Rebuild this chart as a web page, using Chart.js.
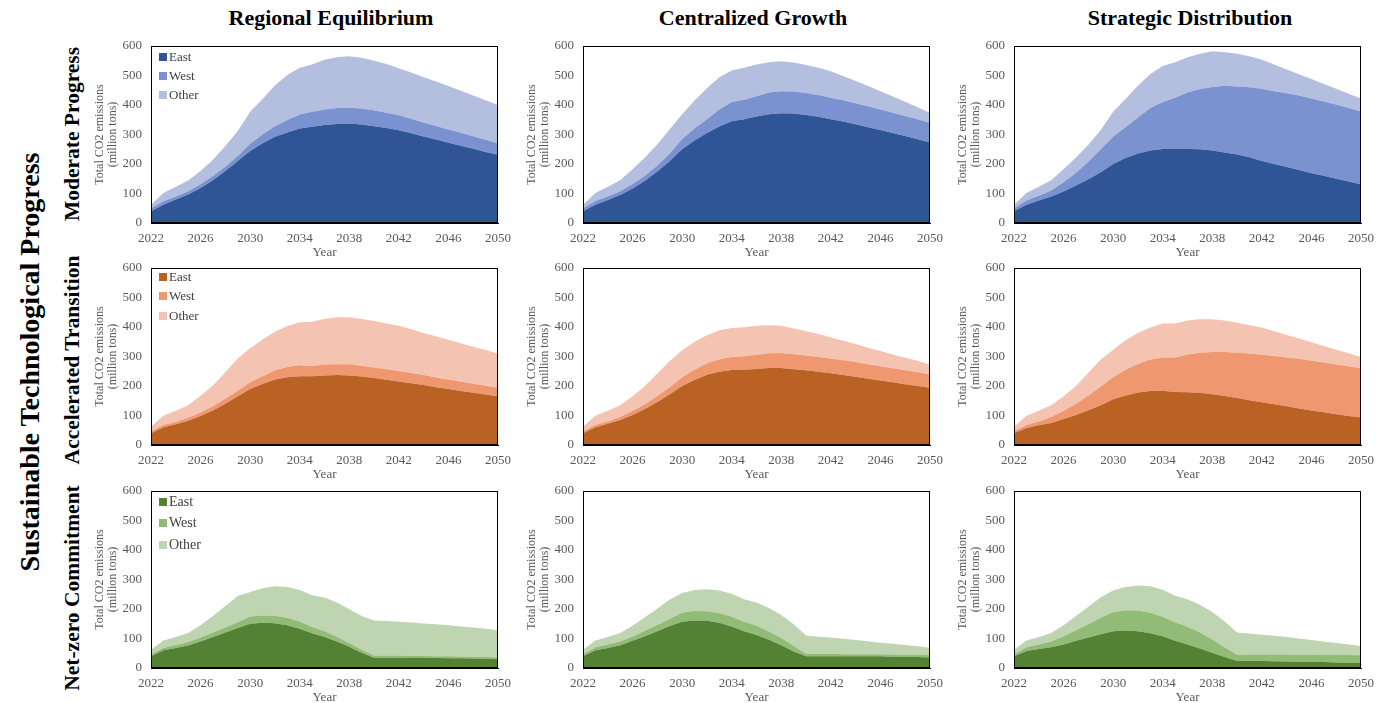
<!DOCTYPE html>
<html>
<head>
<meta charset="utf-8">
<title>Total CO2 emissions by region and scenario</title>
<script src="https://cdn.jsdelivr.net/npm/chart.js@4.4.0/dist/chart.umd.min.js"></script>
<style>
  body { margin: 0; background: #fff; width: 1386px; height: 703px; overflow: hidden; position: relative; font-family: "Liberation Serif", "Times New Roman", serif; }
  .panel { position: absolute; }
  .coltitle { position: absolute; top: 5px; font-weight: bold; font-size: 22px; white-space: nowrap; transform: translateX(-50%); color: #000; }
  .rowtitle { position: absolute; font-weight: bold; white-space: nowrap; transform: translate(-50%, -50%) rotate(-90deg); color: #000; }
</style>
</head>
<body>

<div class="coltitle" style="left:331px">Regional Equilibrium</div>
<div class="coltitle" style="left:753px">Centralized Growth</div>
<div class="coltitle" style="left:1190px">Strategic Distribution</div>

<div class="rowtitle" style="left:30px; top:362px; font-size:28px">Sustainable Technological Progress</div>
<div class="rowtitle" style="left:72px; top:134px; font-size:21.5px">Moderate Progress</div>
<div class="rowtitle" style="left:72px; top:360px; font-size:21.5px">Accelerated Transition</div>
<div class="rowtitle" style="left:72px; top:588px; font-size:21.5px">Net-zero Commitment</div>

<canvas class="panel" id="p11"></canvas>
<canvas class="panel" id="p12"></canvas>
<canvas class="panel" id="p13"></canvas>
<canvas class="panel" id="p21"></canvas>
<canvas class="panel" id="p22"></canvas>
<canvas class="panel" id="p23"></canvas>
<canvas class="panel" id="p31"></canvas>
<canvas class="panel" id="p32"></canvas>
<canvas class="panel" id="p33"></canvas>

<script>
// ---- data (million tons CO2 per year) ----
const years = [2022,2023,2024,2025,2026,2027,2028,2029,2030,2031,2032,2033,2034,2035,2036,2037,2038,2039,2040,2041,2042,2043,2044,2045,2046,2047,2048,2049,2050];
const regionNames = ['East', 'West', 'Other'];
const yTicks = [0, 100, 200, 300, 400, 500, 600];

// Moderate Progress
const moderateRegionalEast  = [40,62,80,97,119,145,176,210,244,270,292,307,320,326,332,336,337,334,328,322,314,304,293,283,272,262,252,241,231];
const moderateRegionalWest  = [10,12,10,11,12,14,15,17,25,30,36,42,48,51,53,54,54,54,54,52,51,49,48,46,45,44,42,41,39];
const moderateRegionalOther = [12,28,33,36,45,55,70,85,108,120,138,153,158,160,168,172,174,172,168,165,160,157,153,151,147,142,138,134,130];

const moderateCentralEast  = [40,62,78,95,117,143,175,210,250,280,305,327,345,352,361,369,372,371,366,360,352,344,335,325,315,305,295,284,273];
const moderateCentralWest  = [10,13,12,13,15,17,20,26,35,40,47,58,65,66,69,73,75,75,75,74,73,72,71,71,70,69,68,68,67];
const moderateCentralOther = [12,27,33,37,50,62,72,82,84,95,105,109,107,108,107,103,101,98,95,92,89,82,75,68,62,55,48,40,33];

const moderateStrategicEast  = [40,62,76,90,107,127,148,172,200,220,236,246,251,251,251,250,246,239,232,223,210,200,190,180,169,160,150,141,131];
const moderateStrategicWest  = [10,14,16,20,31,43,60,78,92,105,122,144,159,174,191,204,215,226,231,237,245,247,250,252,253,252,252,249,247];
const moderateStrategicOther = [12,26,31,35,44,52,57,65,85,95,107,115,122,120,120,120,121,114,111,105,98,90,80,72,66,59,53,48,44];

// Accelerated Transition
const acceleratedRegionalEast  = [40,60,70,82,98,117,140,165,190,207,222,230,233,233,236,237,236,232,227,221,215,209,203,196,190,183,177,171,165];
const acceleratedRegionalWest  = [7,8,8,10,12,14,17,19,23,26,31,34,37,35,37,37,38,37,36,36,36,35,34,33,32,32,31,30,29];
const acceleratedRegionalOther = [15,31,38,43,57,71,90,109,115,125,131,139,146,150,155,159,159,158,157,155,153,148,143,140,135,130,125,121,116];

const acceleratedCentralEast  = [40,60,72,85,102,122,146,172,200,220,238,248,254,255,258,261,261,257,253,248,243,237,231,225,219,213,206,200,194];
const acceleratedCentralWest  = [7,8,8,10,13,16,20,24,30,35,39,43,44,46,48,50,51,51,50,50,50,50,50,49,48,47,47,47,46];
const acceleratedCentralOther = [15,31,36,40,50,62,76,89,91,95,95,98,99,98,98,95,92,87,83,78,71,66,61,56,52,47,43,39,32];

const acceleratedStrategicEast  = [40,58,67,75,88,102,118,135,155,168,178,183,184,180,179,177,172,166,159,152,145,138,131,124,117,111,104,98,93];
const acceleratedStrategicWest  = [7,10,13,20,27,38,50,63,75,87,97,107,113,117,128,136,143,149,154,158,161,164,166,168,169,169,169,169,167];
const acceleratedStrategicOther = [15,31,36,40,50,60,77,92,93,100,105,108,115,115,115,113,111,107,101,96,92,84,76,69,62,56,50,44,38];

// Net-zero Commitment
const netzeroRegionalEast  = [40,60,68,76,90,105,120,136,150,153,152,145,133,118,105,90,72,52,35,35,35,34,34,34,33,33,32,31,30];
const netzeroRegionalWest  = [7,8,10,12,13,15,17,19,25,25,25,25,25,21,20,16,13,10,7,7,7,7,7,6,7,6,6,6,6];
const netzeroRegionalOther = [15,25,27,31,42,56,73,89,83,92,100,105,106,108,114,116,114,114,119,117,115,113,110,108,105,102,99,96,92];

const netzeroCentralEast  = [40,60,68,77,92,108,125,142,157,161,160,153,141,125,112,96,77,56,40,40,40,40,40,40,40,38,37,37,36];
const netzeroCentralWest  = [7,10,12,13,15,18,21,24,31,32,32,33,33,32,31,28,25,19,8,8,8,7,7,7,7,8,8,8,8];
const netzeroCentralOther = [15,23,25,29,36,46,56,66,66,71,75,77,78,76,79,79,78,73,62,58,55,52,48,44,39,36,33,29,25];

const netzeroStrategicEast  = [40,58,64,70,80,92,103,114,125,127,125,118,108,92,80,66,52,37,24,24,24,23,22,21,20,20,19,18,17];
const netzeroStrategicWest  = [7,12,16,20,28,36,45,56,65,69,70,69,66,63,60,54,45,33,21,22,22,23,24,24,25,24,25,26,26];
const netzeroStrategicOther = [15,23,25,29,37,48,60,70,73,79,85,90,91,90,93,94,93,88,75,71,67,63,59,55,50,46,41,36,32];

// ---- styling ----
const palettes = {
  blue:   ['#2F5597', '#7A92CF', '#B4BFDF'],
  orange: ['#BA6124', '#EF9870', '#F4C3B1'],
  green:  ['#548235', '#91BB77', '#BFD5B1']
};
const SERIF = '"Liberation Serif", "Times New Roman", serif';
const GREY = '#595959';

// black frame around the plotting area
const frame = {
  id: 'frame',
  afterDatasetsDraw(chart) {
    const { ctx, chartArea: a } = chart;
    ctx.save();
    ctx.strokeStyle = '#000';
    ctx.lineWidth = 1;
    ctx.strokeRect(Math.round(a.left) + 0.5, Math.round(a.top) + 0.5,
                   Math.round(a.right - a.left) - 1, Math.round(a.bottom - a.top) - 1);
    ctx.restore();
  }
};

// legend drawn inside the top-left of the plotting area
const insideLegend = {
  id: 'insideLegend',
  afterDraw(chart, args, opts) {
    if (!opts.show) return;
    const { ctx, chartArea: a } = chart;
    ctx.save();
    ctx.font = opts.fontSize + 'px ' + SERIF;
    ctx.textBaseline = 'middle';
    chart.data.datasets.forEach((ds, i) => {
      const cy = a.top + opts.first + i * opts.gap;
      ctx.fillStyle = ds.backgroundColor;
      ctx.fillRect(a.left + 8, Math.round(cy - 4), 8, 8);
      ctx.fillStyle = '#404040';
      ctx.fillText(ds.label, a.left + 18, cy + 0.5);
    });
    ctx.restore();
  }
};

function makePanel(id, left, top, series, colors, legend) {
  const cv = document.getElementById(id);
  cv.width = 422; cv.height = 227;
  cv.style.left = left + 'px';
  cv.style.top = top + 'px';
  const datasets = series.map((vals, i) => ({
    label: regionNames[i],
    data: vals,
    backgroundColor: colors[i],
    borderColor: 'rgba(0,0,0,0)',
    borderWidth: 0,
    pointRadius: 0,
    tension: 0,
    fill: i === 0 ? 'origin' : '-1'
  }));
  new Chart(cv, {
    type: 'line',
    data: { labels: years, datasets },
    plugins: [frame, insideLegend],
    options: {
      responsive: false,
      animation: false,
      events: [],
      layout: { padding: { top: 10, right: 14, left: 0, bottom: 0 } },
      plugins: {
        legend: { display: false },
        tooltip: { enabled: false },
        insideLegend: legend || { show: false }
      },
      scales: {
        x: {
          type: 'category',
          offset: false,
          grid: { display: false, drawTicks: false },
          border: { display: true, color: '#000', width: 1 },
          ticks: {
            autoSkip: false, maxRotation: 0, padding: 8, color: GREY,
            font: { family: SERIF, size: 13 },
            callback(v, i) { return (years[i] - years[0]) % 4 === 0 ? String(years[i]) : null; }
          },
          title: { display: true, text: 'Year', color: GREY, font: { family: SERIF, size: 13, lineHeight: 1.1 }, padding: { top: 0, bottom: 3 } },
          afterFit(s) { s.height = 40; s.paddingLeft = 0; s.paddingRight = 0; }
        },
        y: {
          stacked: true,
          min: yTicks[0], max: yTicks[yTicks.length - 1],
          afterBuildTicks(s) { s.ticks = yTicks.map(v => ({ value: v })); },
          grid: { display: false, drawTicks: false },
          border: { display: true, color: '#000', width: 1 },
          ticks: { padding: 9, color: GREY, font: { family: SERIF, size: 13 } },
          title: {
            display: true, text: ['Total CO2 emissions', '(million tons)'], color: GREY,
            font: { family: SERIF, size: 12, lineHeight: 1.1 }, padding: { top: 3, bottom: 0 }
          },
          afterFit(s) { s.width = 61; s.paddingTop = 0; s.paddingBottom = 0; }
        }
      }
    }
  });
}

const colLefts = [90, 522, 953];
const rowTops = [36, 258, 481];

makePanel('p11', colLefts[0], rowTops[0], [moderateRegionalEast, moderateRegionalWest, moderateRegionalOther], palettes.blue, { show: true, first: 11, gap: 19, fontSize: 13 });
makePanel('p12', colLefts[1], rowTops[0], [moderateCentralEast, moderateCentralWest, moderateCentralOther], palettes.blue);
makePanel('p13', colLefts[2], rowTops[0], [moderateStrategicEast, moderateStrategicWest, moderateStrategicOther], palettes.blue);

makePanel('p21', colLefts[0], rowTops[1], [acceleratedRegionalEast, acceleratedRegionalWest, acceleratedRegionalOther], palettes.orange, { show: true, first: 9, gap: 19.3, fontSize: 13 });
makePanel('p22', colLefts[1], rowTops[1], [acceleratedCentralEast, acceleratedCentralWest, acceleratedCentralOther], palettes.orange);
makePanel('p23', colLefts[2], rowTops[1], [acceleratedStrategicEast, acceleratedStrategicWest, acceleratedStrategicOther], palettes.orange);

makePanel('p31', colLefts[0], rowTops[2], [netzeroRegionalEast, netzeroRegionalWest, netzeroRegionalOther], palettes.green, { show: true, first: 10.5, gap: 21.8, fontSize: 14 });
makePanel('p32', colLefts[1], rowTops[2], [netzeroCentralEast, netzeroCentralWest, netzeroCentralOther], palettes.green);
makePanel('p33', colLefts[2], rowTops[2], [netzeroStrategicEast, netzeroStrategicWest, netzeroStrategicOther], palettes.green);
</script>
</body>
</html>
